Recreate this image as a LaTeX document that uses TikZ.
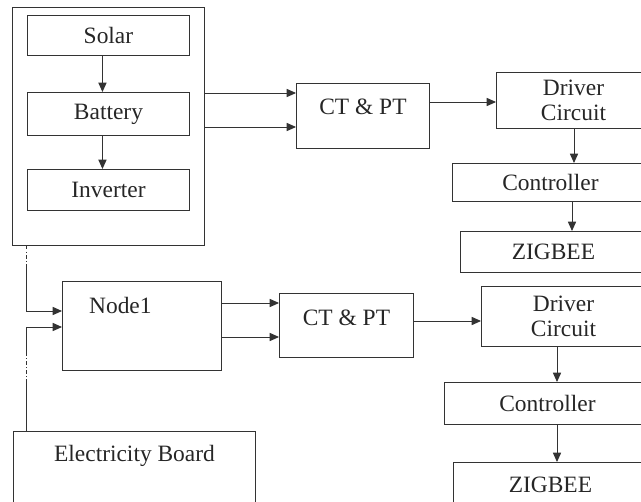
\documentclass[tikz,border=0pt]{standalone}
\usepackage{fontspec}
\setmainfont{Liberation Serif}
\usetikzlibrary{arrows.meta}

\begin{document}
\begin{tikzpicture}[x=0.03cm, y=-0.03cm,
    every node/.style={font=\fontsize{20}{21.5}\selectfont, text=black!85},
    blk/.style 2 args={draw=black!80, line width=0.8pt, inner sep=0pt, align=center,
        minimum width=#1*0.03cm, minimum height=#2*0.03cm, anchor=north west},
    con/.style={draw=black!80, line width=0.8pt},
    arr/.style={con, -{Triangle[length=8pt,width=7pt]}}]
    % Marco de la figura (los bloques de la derecha quedan cortados)
    \clip (0,0) rectangle (641,502);

    % Fuente: solar, bateria e inversor
    \node[blk={192}{238}] (fuente) at (12,7) {};
    \node[blk={162}{40}] (solar) at (27,15) {Solar};
    \node[blk={162}{43}] (bateria) at (27,92) {Battery};
    \node[blk={162}{41}] (inversor) at (27,169) {Inverter};

    % Cadena superior
    \node[blk={133}{65}, label={[anchor=north,yshift=-0.36cm]north:CT \& PT}] (ctpt1) at (296,83) {};
    \node[blk={154}{56}] (driver1) at (496,72) {Driver\\Circuit};
    \node[blk={196}{38}] (ctrl1) at (452,163) {Controller};
    \node[blk={186}{41}] (zig1) at (460,231) {ZIGBEE};

    % Cadena inferior
    \node[blk={159}{89}, label={[anchor=north west,xshift=0.69cm,yshift=-0.36cm]north west:Node1}] (node1) at (62,281) {};
    \node[blk={134}{64}, label={[anchor=north,yshift=-0.39cm]north:CT \& PT}] (ctpt2) at (279,293) {};
    \node[blk={164}{60}] (driver2) at (481,286) {Driver\\Circuit};
    \node[blk={206}{42}] (ctrl2) at (444,382) {Controller};
    \node[blk={194}{60}, label={[anchor=north,yshift=-0.33cm]north:ZIGBEE}] (zig2) at (453,462) {};

    % Red electrica
    \node[blk={242}{100}, label={[anchor=north,yshift=-0.3cm]north:Electricity Board}] (red) at (13,431) {};

    % Flechas dentro de la fuente
    \draw[arr] ([xshift=-0.18cm]solar.south) -- ([xshift=-0.18cm]bateria.north);
    \draw[arr] ([xshift=-0.18cm]bateria.south) -- ([xshift=-0.18cm]inversor.north);

    % Conexiones de arriba
    \draw[arr] (fuente.east |- 0,93) -- (ctpt1.west |- 0,93);
    \draw[arr] (fuente.east |- 0,127) -- (ctpt1.west |- 0,127);
    \draw[arr] (ctpt1.east |- 0,102) -- (driver1.west |- 0,102);
    \draw[arr] (driver1.south -| 574,0) -- (ctrl1.north -| 574,0);
    \draw[arr] (ctrl1.south -| 572,0) -- (zig1.north -| 572,0);

    % Linea de alimentacion a la izquierda (a trazos y punto en parte)
    \coordinate (alim) at (26,0);
    \draw[con, dashdotted] (fuente.south -| alim) -- (alim |- 0,265);
    \draw[arr] (alim |- 0,265) |- (node1.west |- 0,311);
    \draw[con] (red.north -| alim) -- (alim |- 0,383);
    \draw[con, dashdotted] (alim |- 0,383) -- (alim |- 0,353);
    \draw[arr] (alim |- 0,353) |- (node1.west |- 0,327);

    % Conexiones de abajo
    \draw[arr] (node1.east |- 0,303) -- (ctpt2.west |- 0,303);
    \draw[arr] (node1.east |- 0,337) -- (ctpt2.west |- 0,337);
    \draw[arr] (ctpt2.east |- 0,321) -- (driver2.west |- 0,321);
    \draw[arr] (driver2.south -| 557,0) -- (ctrl2.north -| 557,0);
    \draw[arr] (ctrl2.south -| 557,0) -- (zig2.north -| 557,0);
\end{tikzpicture}
\end{document}
